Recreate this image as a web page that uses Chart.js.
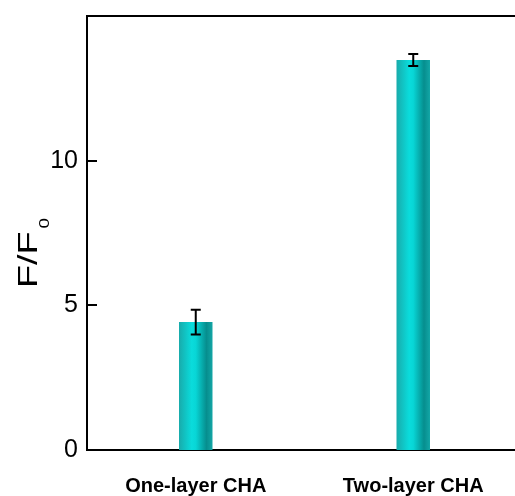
<!DOCTYPE html>
<html>
<head>
<meta charset="utf-8">
<script src="https://cdn.jsdelivr.net/npm/chart.js@4.4.1/dist/chart.umd.min.js"></script>
<style>
  html, body { margin: 0; padding: 0; background: #fff; overflow: hidden; }
  canvas { display: block; }
</style>
</head>
<body>
<canvas id="chart" width="530" height="496"></canvas>
<script>
// --- Données ---
const categories = ["One-layer CHA", "Two-layer CHA"];
const ratio = [4.42, 13.48];
const ratioErr = [0.43, 0.21];
const yTicks = [0, 5, 10];

const FONT = '"Liberation Sans", Arial, Helvetica, sans-serif';
const BAR_FRAC = 0.154;

// dégradé "cylindre" pour chaque barre
function barFill(c) {
    const chart = c.chart;
    const xs = chart.scales.x;
    if (!xs || !chart.chartArea) return '#12c4c4';
    const cx = xs.getPixelForValue(c.dataIndex);
    const half = xs.width / categories.length * BAR_FRAC / 2;
    const g = chart.ctx.createLinearGradient(cx - half, 0, cx + half, 0);
    g.addColorStop(0, '#18abab');
    g.addColorStop(0.38, '#0adcdc');
    g.addColorStop(0.5, '#08d6d6');
    g.addColorStop(0.82, '#068e8e');
    g.addColorStop(1, '#13a6a6');
    return g;
}

// cadre du haut + graduations vers l'intérieur
const frame = {
    id: 'frame',
    afterDraw(chart) {
        const { ctx, chartArea, scales: { y } } = chart;
        ctx.save();
        ctx.strokeStyle = '#000';
        ctx.lineWidth = 2;
        ctx.beginPath();
        ctx.moveTo(chartArea.left - 1, chartArea.top);
        ctx.lineTo(chartArea.right, chartArea.top);
        ctx.stroke();
        y.ticks.forEach(t => {
            const py = Math.round(y.getPixelForValue(t.value));
            ctx.beginPath();
            ctx.moveTo(chartArea.left, py);
            ctx.lineTo(chartArea.left + 10, py);
            ctx.stroke();
        });
        ctx.restore();
    }
};

// barres d'erreur
const errorBars = {
    id: 'errorBars',
    afterDatasetsDraw(chart) {
        const { ctx, scales: { y } } = chart;
        const meta = chart.getDatasetMeta(0);
        ctx.save();
        ctx.strokeStyle = '#000';
        ctx.lineWidth = 2;
        meta.data.forEach((bar, i) => {
            const top = y.getPixelForValue(ratio[i] + ratioErr[i]);
            const bot = y.getPixelForValue(ratio[i] - ratioErr[i]);
            ctx.beginPath();
            ctx.moveTo(bar.x, top); ctx.lineTo(bar.x, bot);
            ctx.moveTo(bar.x - 5, top); ctx.lineTo(bar.x + 5, top);
            ctx.moveTo(bar.x - 5, bot); ctx.lineTo(bar.x + 5, bot);
            ctx.stroke();
        });
        ctx.restore();
    }
};

// titre de l'axe Y avec indice : F/F0
const yTitle = {
    id: 'yTitle',
    afterDraw(chart) {
        const ctx = chart.ctx;
        ctx.save();
        ctx.translate(37, 288);
        ctx.rotate(-Math.PI / 2);
        ctx.scale(1.35, 1);
        ctx.fillStyle = '#000';
        ctx.textAlign = 'left';
        ctx.textBaseline = 'alphabetic';
        ctx.font = '28px ' + FONT;
        ctx.fillText('F/F', 0, 0);
        const w = ctx.measureText('F/F').width;
        ctx.font = '14px ' + FONT;
        ctx.fillText('0', w + 2, 12);
        ctx.restore();
    }
};

const chart = new Chart(document.getElementById('chart').getContext('2d'), {
    type: 'bar',
    data: {
        labels: categories,
        datasets: [{
            data: ratio,
            backgroundColor: barFill,
            borderWidth: 0,
            barPercentage: BAR_FRAC,
            categoryPercentage: 1
        }]
    },
    options: {
        responsive: false,
        animation: false,
        layout: { padding: { top: 16, right: 8, left: 0, bottom: 0 } },
        plugins: { legend: { display: false }, tooltip: { enabled: false } },
        scales: {
            x: {
                grid: { display: false, drawTicks: false },
                border: { display: true, color: '#000', width: 2 },
                ticks: {
                    color: '#000',
                    padding: 24,
                    font: { family: FONT, size: 20, weight: 'bold' }
                },
                afterFit: s => { s.height = 46; s.paddingLeft = 0; s.paddingRight = 0; }
            },
            y: {
                min: 0,
                max: 15,
                grid: { display: false, drawTicks: false },
                border: { display: true, color: '#000', width: 2 },
                ticks: {
                    color: '#000',
                    padding: 9,
                    font: { family: FONT, size: 25 }
                },
                afterBuildTicks: s => { s.ticks = yTicks.map(v => ({ value: v })); },
                afterFit: s => { s.width = 87; s.paddingTop = 0; s.paddingBottom = 0; }
            }
        }
    },
    plugins: [errorBars, frame, yTitle]
});
</script>
</body>
</html>
